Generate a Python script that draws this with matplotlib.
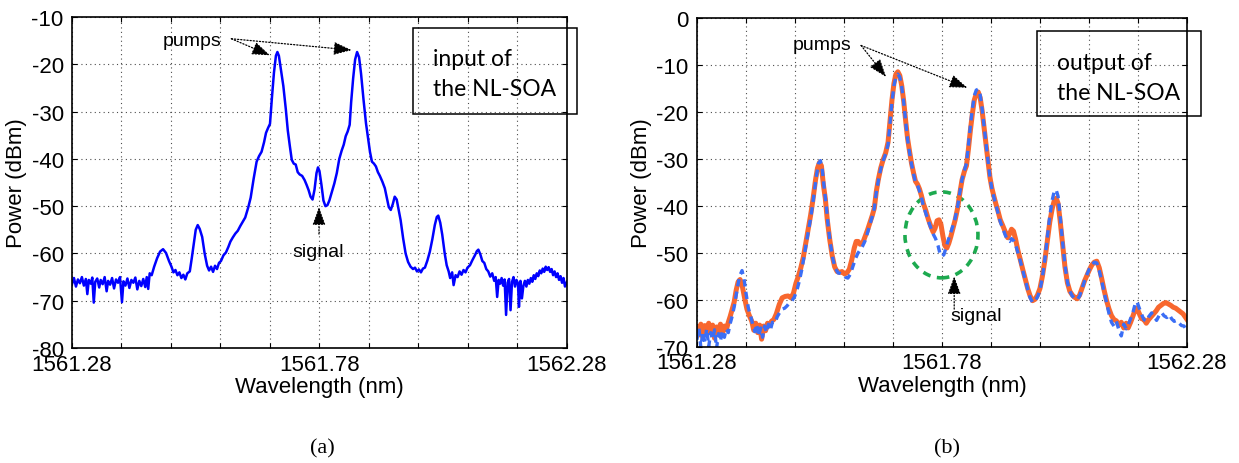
import matplotlib
matplotlib.use("Agg")
import matplotlib.pyplot as plt
from matplotlib.patches import Ellipse, Rectangle
import numpy as np

plt.rcParams['font.family'] = ['Liberation Sans', 'DejaVu Sans']
plt.rcParams['axes.unicode_minus'] = False

wl0 = 1561.28  # start of the span, nm

# ---- (a) input spectrum: offset from 1561.28 nm and power in dBm ----
in_dl = [0.000, 0.004, 0.008, 0.012, 0.016, 0.020, 0.024, 0.028, 0.031, 0.034,
         0.038, 0.041, 0.044, 0.047, 0.051, 0.055, 0.058, 0.062, 0.066, 0.070,
         0.073, 0.077, 0.081, 0.085, 0.089, 0.093, 0.097, 0.101, 0.104, 0.108,
         0.112, 0.116, 0.120, 0.124, 0.128, 0.132, 0.136, 0.140, 0.144, 0.148,
         0.151, 0.154, 0.157, 0.161, 0.166, 0.172, 0.178, 0.184, 0.190, 0.196,
         0.201, 0.205, 0.209, 0.213, 0.217, 0.221, 0.225, 0.229, 0.233, 0.238,
         0.242, 0.246, 0.250, 0.254, 0.258, 0.263, 0.268, 0.273, 0.277, 0.281,
         0.285, 0.289, 0.293, 0.297, 0.301, 0.306, 0.311, 0.316, 0.320, 0.325,
         0.330, 0.335, 0.340, 0.345, 0.350, 0.356, 0.361, 0.367, 0.373, 0.378,
         0.383, 0.388, 0.392, 0.396, 0.400, 0.404, 0.408, 0.412, 0.415, 0.418,
         0.422, 0.427, 0.432, 0.436, 0.440, 0.444, 0.448, 0.452, 0.456, 0.460,
         0.465, 0.470, 0.474, 0.478, 0.482, 0.486, 0.490, 0.494, 0.497, 0.500,
         0.504, 0.508, 0.512, 0.516, 0.520, 0.525, 0.530, 0.535, 0.540, 0.545,
         0.549, 0.553, 0.557, 0.561, 0.564, 0.568, 0.572, 0.576, 0.580, 0.584,
         0.589, 0.594, 0.598, 0.602, 0.606, 0.610, 0.614, 0.618, 0.622, 0.627,
         0.632, 0.636, 0.640, 0.644, 0.648, 0.652, 0.656, 0.660, 0.664, 0.669,
         0.674, 0.679, 0.684, 0.689, 0.693, 0.697, 0.701, 0.705, 0.709, 0.713,
         0.718, 0.723, 0.728, 0.733, 0.737, 0.740, 0.744, 0.748, 0.753, 0.757,
         0.761, 0.764, 0.768, 0.771, 0.775, 0.779, 0.783, 0.787, 0.791, 0.795,
         0.799, 0.804, 0.809, 0.814, 0.818, 0.821, 0.825, 0.829, 0.833, 0.837,
         0.841, 0.845, 0.849, 0.853, 0.856, 0.859, 0.862, 0.865, 0.868, 0.871,
         0.874, 0.877, 0.880, 0.883, 0.886, 0.889, 0.892, 0.895, 0.898, 0.901,
         0.903, 0.906, 0.909, 0.912, 0.915, 0.918, 0.921, 0.924, 0.927, 0.930,
         0.933, 0.936, 0.939, 0.942, 0.945, 0.948, 0.951, 0.954, 0.957, 0.960,
         0.963, 0.966, 0.969, 0.972, 0.975, 0.978, 0.981, 0.984, 0.987, 0.990,
         0.993, 0.996, 1.000]
in_pw = [-66.5, -65.2, -67.0, -65.5, -66.3, -65.0, -66.8, -65.4, -68.6, -65.6,
         -66.4, -65.1, -70.4, -66.0, -65.3, -67.2, -65.6, -66.5, -65.0, -68.0,
         -65.8, -66.6, -65.2, -67.4, -65.5, -66.2, -65.0, -70.3, -65.9, -66.8,
         -65.3, -67.3, -65.6, -66.2, -65.1, -67.6, -65.8, -66.9, -65.4, -67.1,
         -65.0, -67.5, -64.2, -64.6, -62.8, -61.0, -59.6, -59.1, -59.9, -61.6,
         -62.8, -64.0, -63.5, -64.6, -64.0, -65.2, -64.5, -65.5, -64.2, -63.8,
         -61.0, -58.0, -55.0, -54.0, -54.8, -56.5, -60.0, -62.6, -63.6, -62.8,
         -63.9, -62.6, -63.3, -62.0, -61.6, -60.4, -59.8, -58.6, -57.5, -56.6,
         -55.8, -55.2, -54.2, -53.3, -52.4, -50.3, -48.2, -44.2, -40.6, -39.4,
         -38.5, -36.5, -34.5, -33.5, -32.6, -27.0, -21.8, -18.2, -17.4, -18.2,
         -21.0, -24.6, -29.5, -34.0, -37.2, -40.2, -41.0, -41.2, -42.8, -43.3,
         -43.6, -44.5, -45.5, -46.6, -48.0, -48.6, -46.5, -43.0, -41.8, -42.6,
         -45.5, -48.8, -50.0, -49.8, -48.8, -47.0, -45.2, -43.0, -40.0, -38.2,
         -37.0, -35.2, -34.2, -32.8, -28.0, -23.0, -19.0, -17.4, -18.5, -22.0,
         -27.5, -32.5, -35.5, -38.5, -40.6, -41.0, -41.6, -42.8, -43.6, -44.8,
         -46.2, -48.2, -50.2, -50.8, -49.6, -48.0, -48.6, -50.8, -53.0, -56.8,
         -60.0, -61.8, -62.8, -63.3, -63.0, -63.8, -63.4, -64.0, -63.2, -63.0,
         -61.5, -59.6, -57.0, -54.0, -52.3, -52.0, -53.5, -56.0, -60.0, -62.5,
         -63.8, -65.2, -64.0, -66.7, -64.6, -65.0, -63.8, -64.5, -63.5, -64.0,
         -63.0, -62.5, -61.4, -60.4, -59.5, -59.2, -60.2, -61.6, -62.0, -63.3,
         -63.8, -64.9, -64.2, -65.8, -65.0, -69.2, -65.6, -66.4, -65.2, -66.8,
         -65.5, -73.0, -66.2, -65.4, -72.0, -66.0, -65.0, -67.0, -65.6, -66.3,
         -71.3, -65.8, -69.5, -66.8, -65.8, -67.0, -65.6, -66.4, -65.2, -66.0,
         -64.6, -65.4, -64.2, -64.8, -63.6, -64.2, -63.2, -63.9, -62.8, -63.5,
         -62.9, -63.9, -63.3, -64.6, -63.8, -65.0, -64.2, -65.6, -64.8, -66.2,
         -65.2, -67.0, -66.0]

# ---- (b) output spectra (orange solid and blue dashed) ----
out1_dl = [0.000, 0.004, 0.008, 0.012, 0.016, 0.020, 0.024, 0.028, 0.032, 0.036,
           0.040, 0.044, 0.048, 0.052, 0.056, 0.060, 0.064, 0.068, 0.072, 0.076,
           0.080, 0.084, 0.088, 0.092, 0.097, 0.102, 0.107, 0.112, 0.116, 0.120,
           0.124, 0.128, 0.132, 0.136, 0.140, 0.144, 0.148, 0.152, 0.157, 0.162,
           0.168, 0.174, 0.180, 0.186, 0.192, 0.197, 0.202, 0.207, 0.212, 0.217,
           0.222, 0.227, 0.232, 0.237, 0.242, 0.246, 0.250, 0.254, 0.258, 0.262,
           0.266, 0.271, 0.276, 0.281, 0.286, 0.291, 0.296, 0.301, 0.306, 0.311,
           0.316, 0.321, 0.325, 0.329, 0.333, 0.338, 0.343, 0.348, 0.353, 0.358,
           0.362, 0.366, 0.370, 0.375, 0.380, 0.385, 0.390, 0.394, 0.398, 0.402,
           0.406, 0.410, 0.414, 0.418, 0.422, 0.426, 0.430, 0.434, 0.438, 0.442,
           0.446, 0.450, 0.454, 0.458, 0.462, 0.467, 0.472, 0.477, 0.482, 0.486,
           0.490, 0.494, 0.498, 0.502, 0.506, 0.510, 0.514, 0.518, 0.522, 0.527,
           0.532, 0.537, 0.541, 0.546, 0.550, 0.554, 0.558, 0.562, 0.566, 0.570,
           0.574, 0.578, 0.582, 0.586, 0.590, 0.594, 0.598, 0.602, 0.606, 0.610,
           0.614, 0.619, 0.624, 0.629, 0.634, 0.638, 0.642, 0.646, 0.650, 0.655,
           0.660, 0.665, 0.670, 0.675, 0.680, 0.685, 0.690, 0.695, 0.700, 0.705,
           0.710, 0.715, 0.720, 0.725, 0.729, 0.733, 0.737, 0.741, 0.746, 0.751,
           0.756, 0.761, 0.766, 0.771, 0.776, 0.781, 0.786, 0.791, 0.796, 0.801,
           0.806, 0.811, 0.816, 0.821, 0.826, 0.831, 0.836, 0.841, 0.846, 0.851,
           0.856, 0.861, 0.866, 0.871, 0.876, 0.880, 0.885, 0.890, 0.894, 0.898,
           0.902, 0.907, 0.912, 0.917, 0.922, 0.927, 0.932, 0.937, 0.942, 0.947,
           0.952, 0.957, 0.962, 0.967, 0.972, 0.977, 0.982, 0.987, 0.992, 0.996,
           1.000]
out1_pw = [-66.0, -67.5, -65.2, -68.0, -65.5, -67.0, -65.0, -66.8, -65.4, -68.2,
           -65.8, -66.6, -65.2, -67.2, -65.6, -66.4, -64.8, -63.5, -62.0, -60.5,
           -58.0, -56.2, -55.7, -56.8, -59.5, -62.0, -63.4, -64.6, -66.5, -65.0,
           -67.0, -65.4, -68.4, -65.6, -66.6, -65.0, -65.6, -64.6, -64.2, -63.0,
           -61.0, -59.6, -59.3, -59.2, -59.6, -58.6, -56.5, -55.0, -53.2, -51.0,
           -48.0, -45.0, -42.0, -38.5, -34.5, -32.0, -30.8, -31.5, -35.5, -38.5,
           -43.0, -47.2, -50.6, -53.0, -54.0, -54.2, -54.0, -54.5, -54.3, -53.5,
           -51.5, -49.0, -47.6, -47.6, -48.2, -48.0, -46.6, -45.2, -43.6, -42.0,
           -40.5, -37.0, -34.5, -32.0, -30.2, -28.8, -26.5, -22.0, -17.5, -14.0,
           -12.0, -11.5, -12.3, -14.5, -17.8, -22.0, -25.8, -28.5, -31.0, -33.0,
           -34.8, -35.4, -36.4, -37.8, -39.5, -41.0, -42.8, -44.3, -45.6, -44.8,
           -43.2, -43.0, -44.0, -46.5, -48.5, -49.0, -48.0, -46.6, -45.0, -43.0,
           -40.5, -37.0, -34.5, -32.6, -31.5, -28.0, -24.0, -20.5, -17.5, -16.2,
           -15.8, -17.0, -19.8, -23.5, -27.0, -30.5, -34.0, -36.3, -38.0, -39.6,
           -41.0, -43.0, -44.2, -45.5, -46.8, -46.0, -45.0, -45.4, -47.0, -49.5,
           -51.5, -53.6, -55.6, -57.6, -59.2, -60.2, -59.9, -59.0, -57.6, -55.0,
           -51.6, -47.5, -43.5, -40.6, -39.0, -38.4, -39.5, -43.0, -48.0, -53.0,
           -56.4, -58.2, -59.0, -59.5, -59.8, -59.0, -57.5, -56.0, -54.8, -53.6,
           -52.6, -52.0, -51.8, -53.2, -55.5, -58.0, -60.2, -62.0, -63.4, -64.2,
           -64.5, -65.4, -64.8, -66.0, -65.0, -66.0, -64.8, -63.4, -62.2, -61.8,
           -62.8, -64.0, -64.2, -65.0, -64.2, -63.6, -63.0, -62.4, -61.6, -61.2,
           -60.8, -60.6, -60.9, -61.2, -61.6, -61.8, -62.2, -62.6, -63.0, -63.6,
           -64.2]

out2_dl = [0.000, 0.004, 0.008, 0.012, 0.016, 0.020, 0.024, 0.028, 0.032, 0.036,
           0.040, 0.044, 0.048, 0.052, 0.056, 0.060, 0.064, 0.068, 0.072, 0.077,
           0.082, 0.087, 0.092, 0.096, 0.100, 0.105, 0.110, 0.114, 0.118, 0.122,
           0.126, 0.130, 0.134, 0.138, 0.142, 0.146, 0.150, 0.154, 0.159, 0.164,
           0.169, 0.174, 0.179, 0.184, 0.189, 0.194, 0.199, 0.204, 0.209, 0.214,
           0.219, 0.224, 0.229, 0.234, 0.239, 0.244, 0.248, 0.252, 0.256, 0.260,
           0.264, 0.268, 0.273, 0.278, 0.283, 0.288, 0.293, 0.298, 0.303, 0.308,
           0.313, 0.318, 0.323, 0.328, 0.333, 0.338, 0.343, 0.348, 0.353, 0.358,
           0.362, 0.366, 0.370, 0.375, 0.380, 0.385, 0.390, 0.394, 0.398, 0.402,
           0.406, 0.410, 0.414, 0.418, 0.422, 0.426, 0.430, 0.434, 0.438, 0.442,
           0.446, 0.450, 0.454, 0.458, 0.462, 0.467, 0.472, 0.477, 0.482, 0.487,
           0.492, 0.496, 0.500, 0.504, 0.508, 0.512, 0.517, 0.522, 0.527, 0.532,
           0.537, 0.541, 0.546, 0.550, 0.554, 0.558, 0.562, 0.566, 0.570, 0.574,
           0.578, 0.582, 0.586, 0.590, 0.594, 0.598, 0.602, 0.606, 0.610, 0.614,
           0.619, 0.624, 0.629, 0.634, 0.638, 0.642, 0.646, 0.650, 0.655, 0.660,
           0.665, 0.670, 0.675, 0.680, 0.685, 0.690, 0.695, 0.700, 0.705, 0.710,
           0.715, 0.720, 0.725, 0.729, 0.733, 0.737, 0.741, 0.746, 0.751, 0.756,
           0.761, 0.766, 0.771, 0.776, 0.781, 0.786, 0.791, 0.796, 0.801, 0.806,
           0.811, 0.816, 0.821, 0.826, 0.831, 0.836, 0.841, 0.846, 0.851, 0.856,
           0.861, 0.866, 0.871, 0.876, 0.880, 0.885, 0.890, 0.894, 0.898, 0.902,
           0.907, 0.912, 0.917, 0.922, 0.928, 0.933, 0.938, 0.943, 0.948, 0.953,
           0.959, 0.964, 0.969, 0.974, 0.979, 0.984, 0.989, 0.994, 1.000]
out2_pw = [-68.5, -66.0, -70.2, -66.8, -69.0, -66.2, -70.0, -67.0, -68.5, -66.4,
           -70.4, -67.2, -68.8, -66.6, -68.0, -66.2, -67.0, -65.0, -63.5, -61.0,
           -57.8, -55.0, -53.8, -55.5, -58.5, -61.8, -63.6, -65.4, -66.8, -65.2,
           -67.8, -66.0, -68.0, -65.6, -67.0, -65.2, -66.4, -64.8, -65.0, -63.6,
           -62.7, -62.0, -61.8, -61.3, -60.6, -60.2, -59.4, -58.0, -56.0, -53.6,
           -50.5, -47.5, -44.5, -41.3, -37.5, -33.5, -31.0, -30.4, -32.5, -36.5,
           -40.0, -44.5, -48.5, -51.6, -53.4, -54.3, -54.4, -54.6, -55.2, -55.4,
           -54.6, -53.0, -51.4, -50.2, -49.4, -48.6, -47.5, -45.8, -44.0, -42.2,
           -40.5, -37.2, -34.8, -32.2, -30.4, -29.0, -27.0, -22.5, -18.0, -14.5,
           -12.6, -12.0, -12.6, -14.8, -18.0, -22.2, -26.0, -28.8, -31.2, -33.2,
           -35.0, -35.6, -36.8, -38.2, -40.0, -41.6, -43.2, -44.6, -46.0, -47.0,
           -48.5, -50.2, -50.8, -50.4, -49.0, -47.6, -46.0, -44.4, -42.6, -40.2,
           -36.8, -34.4, -32.4, -31.0, -27.2, -23.0, -19.5, -16.6, -15.4, -15.2,
           -16.4, -19.4, -23.2, -26.8, -30.4, -34.0, -36.4, -38.2, -39.8, -41.4,
           -43.4, -44.8, -46.2, -47.4, -47.6, -47.0, -47.4, -48.2, -50.0, -51.8,
           -53.8, -55.8, -57.8, -59.6, -60.6, -60.3, -59.4, -58.0, -55.2, -51.4,
           -46.8, -42.2, -38.8, -37.0, -36.6, -38.0, -42.0, -47.5, -52.6, -56.2,
           -58.2, -59.2, -59.8, -60.0, -59.2, -57.6, -56.0, -54.6, -53.4, -52.6,
           -52.0, -52.2, -53.8, -56.0, -58.5, -60.6, -63.0, -64.8, -65.6, -64.6,
           -66.4, -67.7, -65.2, -66.2, -65.4, -64.0, -62.6, -61.0, -60.4, -61.6,
           -63.0, -64.2, -64.6, -63.6, -62.8, -63.6, -64.4, -63.4, -62.7, -63.4,
           -63.8, -63.2, -64.1, -64.6, -64.4, -65.0, -65.5, -65.6, -66.6]

x_major = [1561.28, 1561.38, 1561.48, 1561.58, 1561.68, 1561.78,
           1561.88, 1561.98, 1562.08, 1562.18, 1562.28]
x_labels = ['1561.28', '', '', '', '', '1561.78', '', '', '', '', '1562.28']


def style_axes(ax, ylo, yhi):
    ax.set_xlim(1561.28, 1562.28)
    ax.set_ylim(ylo, yhi)
    ax.set_xticks(x_major)
    ax.set_xticklabels(x_labels)
    ax.set_yticks(np.arange(ylo, yhi + 1, 10))
    ax.tick_params(direction='in', length=3.5, width=0.8, top=True, right=True,
                   labelsize=16, pad=4)
    ax.tick_params(axis='y', pad=6)
    ax.grid(True, linestyle=(0, (1, 3)), color='0.3', linewidth=0.8)
    for s in ax.spines.values():
        s.set_linewidth(1.2)
    ax.set_xlabel('Wavelength (nm)', fontsize=16, labelpad=1)
    ax.set_ylabel('Power (dBm)', fontsize=16, labelpad=3)


def pointer(ax, tail, head):
    ax.annotate('', xy=head, xytext=tail,
                arrowprops=dict(arrowstyle='-|>,head_length=1.1,head_width=0.4',
                                linestyle=(0, (1, 1.5)), lw=0.9, color='black',
                                shrinkA=0, shrinkB=0))


fig = plt.figure(figsize=(12.39, 4.64), dpi=100)
ax1 = fig.add_axes([0.0581, 0.2478, 0.3995, 0.7134])
ax2 = fig.add_axes([0.5625, 0.2506, 0.3955, 0.7090])

# (a)
ax1.plot(wl0 + np.array(in_dl), in_pw, color='#0000ff', lw=1.8)
style_axes(ax1, -80, -10)
ax1.text(wl0 + 0.243, -15.0, 'pumps', fontsize=14, ha='center', va='center')
pointer(ax1, (wl0 + 0.322, -14.6), (wl0 + 0.400, -18.1))
pointer(ax1, (wl0 + 0.322, -14.6), (wl0 + 0.565, -17.0))
ax1.text(wl0 + 0.497, -59.5, 'signal', fontsize=14, ha='center', va='center')
pointer(ax1, (wl0 + 0.499, -55.9), (wl0 + 0.499, -50.2))

# (b)
ax2.plot(wl0 + np.array(out1_dl), out1_pw, color='#f8672e', lw=3.6)
ax2.plot(wl0 + np.array(out2_dl), out2_pw, color='#3b6ef5', lw=2.4,
         linestyle=(0, (2.2, 1.6)))
style_axes(ax2, -70, 0)
ax2.add_patch(Ellipse((wl0 + 0.499, -46.2), 0.149, 18.3, fill=False,
                      edgecolor='#1daa4f', lw=2.6, linestyle=(0, (2.2, 1.8))))
ax2.text(wl0 + 0.255, -5.6, 'pumps', fontsize=14, ha='center', va='center')
pointer(ax2, (wl0 + 0.335, -5.9), (wl0 + 0.386, -12.6))
pointer(ax2, (wl0 + 0.335, -5.9), (wl0 + 0.552, -14.9))
ax2.text(wl0 + 0.570, -63.4, 'signal', fontsize=14, ha='center', va='center')
pointer(ax2, (wl0 + 0.525, -62.0), (wl0 + 0.525, -55.0))

# text boxes (figure coordinates, they run past the right edge of each axes)
for x0, y0, w, h, line1, line2 in [
        (413, 29, 164, 86, 'input of', 'the NL-SOA'),
        (1037, 32, 164, 85, 'output of', 'the NL-SOA')]:
    fig.add_artist(Rectangle((x0 / 1239, 1 - (y0 + h) / 464), w / 1239, h / 464,
                             transform=fig.transFigure, fill=False,
                             edgecolor='black', lw=1.1))
    fig.text((x0 + 20) / 1239, 1 - (y0 + 31) / 464, line1, fontsize=16.5,
             family='Lato', va='center', ha='left')
    fig.text((x0 + 20) / 1239, 1 - (y0 + 61) / 464, line2, fontsize=16.5,
             family='Lato', va='center', ha='left')

fig.text(322 / 1239, 1 - 449 / 464, '(a)', fontsize=16, family='Liberation Serif',
         ha='center', va='center')
fig.text(947 / 1239, 1 - 449 / 464, '(b)', fontsize=16, family='Liberation Serif',
         ha='center', va='center')

fig.savefig('out.png', dpi=100)
